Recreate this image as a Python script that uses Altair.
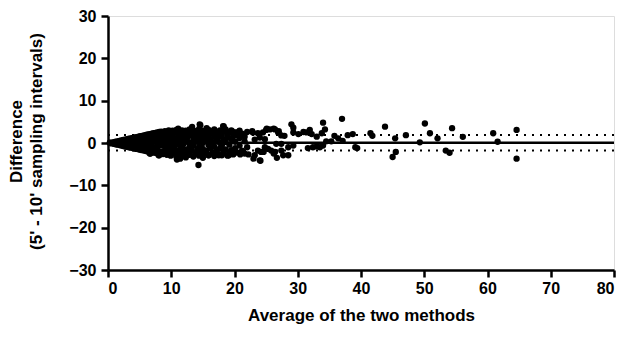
import altair as alt
import pandas as pd

# Dense cluster (average, difference) read from the fan at low values
cluster_x = [
    0.3, 0.3, 0.6, 0.6, 0.9, 0.9, 1.2, 1.2, 1.2, 1.5, 1.5, 1.8, 1.8, 1.8,
    2.1, 2.1, 2.1, 2.4, 2.4, 2.7, 2.7, 2.7, 3.0, 3.0, 3.0, 3.3, 3.3, 3.3,
    3.6, 3.6, 3.6, 3.9, 3.9, 3.9, 4.2, 4.2, 4.2, 4.5, 4.5, 4.5, 4.5,
    4.8, 4.8, 4.8, 5.1, 5.1, 5.1, 5.1, 5.4, 5.4, 5.4, 5.7, 5.7, 5.7, 5.7,
    6.0, 6.0, 6.0, 6.0, 6.0, 6.3, 6.3, 6.3, 6.6, 6.6, 6.6, 6.6, 6.9, 6.9, 6.9,
    7.2, 7.2, 7.2, 7.2, 7.5, 7.5, 7.5, 7.8, 7.8, 7.8, 7.8, 7.8, 8.1, 8.1, 8.1,
    8.4, 8.4, 8.4, 8.4, 8.7, 8.7, 8.7, 8.7, 9.0, 9.0, 9.0, 9.0, 9.3, 9.3, 9.3, 9.3,
    9.6, 9.6, 9.6, 9.6, 9.9, 9.9, 9.9, 9.9, 10.2, 10.2, 10.2, 10.2,
    10.5, 10.5, 10.5, 10.5, 10.8, 10.8, 10.8, 10.8, 11.1, 11.1, 11.1, 11.1,
    11.4, 11.4, 11.4, 11.7, 11.7, 11.7, 11.7, 12.0, 12.0, 12.0, 12.0,
    12.3, 12.3, 12.3, 12.3, 12.6, 12.6, 12.6, 12.9, 12.9, 12.9, 12.9,
    13.2, 13.2, 13.2, 13.5, 13.5, 13.5, 13.5, 13.8, 13.8, 13.8, 14.1, 14.1, 14.1,
    14.4, 14.4, 14.4, 14.4, 14.7, 14.7, 14.7, 15.0, 15.0, 15.0, 15.0,
    15.3, 15.3, 15.3, 15.6, 15.6, 15.6, 15.9, 15.9, 15.9, 15.9, 16.2, 16.2, 16.2,
    16.5, 16.5, 16.5, 16.8, 16.8, 16.8, 16.8, 17.1, 17.1, 17.1, 17.4, 17.4, 17.4,
    17.7, 17.7, 17.7, 18.0, 18.0, 18.0, 18.0, 18.3, 18.3, 18.3, 18.6, 18.6, 18.6,
    18.9, 18.9, 18.9, 19.2, 19.2, 19.2, 19.5, 19.5, 19.5, 19.8, 19.8, 19.8,
    20.1, 20.1, 20.1, 20.4, 20.4, 20.8, 20.8, 20.8, 21.2, 21.2, 21.6, 21.6, 21.6,
    22.0, 22.0,
]
cluster_y = [
    0.0, 0.1, 0.1, -0.1, 0.2, -0.2, 0.3, -0.3, 0.0, 0.4, -0.4, 0.5, -0.5, 0.1,
    0.6, -0.6, 0.0, 0.7, -0.7, 0.8, -0.8, 0.1, 0.9, -0.9, 0.0, 1.0, -1.0, 0.3,
    1.1, -1.1, -0.2, 1.2, -1.2, 0.4, 1.3, -1.3, 0.0, 1.4, -1.4, 0.5, -0.5,
    1.5, -1.5, 0.1, 1.6, -1.6, 0.6, -0.7, 1.7, -1.7, 0.0, 1.8, -1.8, 0.8, -0.6,
    1.9, -1.9, 0.2, 1.0, -1.0, 2.0, -2.0, -0.3, 2.1, -2.5, 0.9, -1.1, 2.2, -2.0, 0.1,
    2.3, -2.2, 1.2, -1.0, 2.4, -2.3, 0.3, 2.5, -2.4, 1.4, -1.2, 0.0, 2.6, -2.9, 0.7,
    2.7, -2.0, 1.0, -0.5, 2.2, -2.6, 0.2, 1.6, 2.8, -1.8, -0.9, 0.9, 2.4, -2.8, 0.4, -1.5,
    3.0, -2.2, 1.5, -0.3, 2.1, -3.0, 0.8, -1.2, 2.9, -2.4, 0.0, 1.8,
    2.5, -1.7, 1.1, -0.7, 3.1, -3.2, 0.5, -1.9, 2.2, -2.6, 1.5, -0.3,
    2.8, -1.4, 0.2, 3.0, -3.0, 1.0, -0.8, 2.4, -2.2, 1.8, -0.1,
    2.9, -3.4, 0.6, -1.5, 2.1, -2.0, 1.3, 3.2, -2.8, 0.0, -1.0,
    2.6, -1.7, 1.9, 3.0, -3.2, 0.8, -0.6, 2.2, -2.4, 1.4, 2.8, -1.6, 0.3,
    3.3, -3.0, 1.7, -0.9, 2.4, -2.2, 0.9, 2.9, -3.5, 0.0, -1.4,
    2.0, -2.5, 1.4, 2.7, -1.8, 0.6, 3.1, -2.9, 1.8, -0.5, 2.3, -1.2, 0.9,
    2.8, -2.4, 0.1, 3.2, -3.1, 1.5, -0.8, 2.1, -1.9, 0.6, 2.6, -2.6, 1.2,
    3.0, -1.3, 0.0, 2.3, -2.9, 1.7, -0.6, 2.8, -2.1, 0.8, 3.2, -1.5, 0.2,
    2.2, -3.0, 1.3, 2.6, -2.3, -0.4, 3.0, -1.7, 0.9, 2.0, -2.7, 1.6,
    2.5, -1.2, 0.3, 1.8, -2.2, 2.9, -0.6, 1.2, 2.2, -1.8, 1.5, -2.5, 0.4,
    2.6, -1.0,
]

# Edge and scattered points read individually
spread_x = [
    11.1, 13.3, 14.6, 15.6, 18.3, 19.6, 20.4, 22.8, 25.1, 26.2, 27.0,
    6.7, 7.2, 8.0, 10.9, 11.4, 12.7, 14.3, 15.9, 17.0, 17.5, 19.1, 19.9,
    20.9, 22.2, 23.0, 24.1, 24.6, 26.2, 26.7, 14.5, 18.2,
    22.9, 23.7, 24.5, 25.0, 25.6, 26.4, 26.9, 27.4, 27.9, 29.0, 29.3, 29.3,
    30.1, 30.9, 31.4, 31.9, 32.2, 33.0, 33.8, 34.0, 34.3, 23.2, 24.0, 24.8,
    26.6, 27.4, 28.5, 29.3, 31.6, 32.4, 33.0, 33.5, 34.0, 23.7, 24.2, 23.2,
    24.0, 25.8, 26.4, 27.7, 28.5, 24.8, 25.3, 27.4,
    37.0, 43.8, 35.8, 36.4, 37.1, 37.9, 38.7, 34.5, 35.3, 41.5, 41.8, 39.1,
    39.4, 45.4, 45.0, 45.5,
    50.1, 47.1, 50.9, 49.3, 52.1, 54.4, 56.1, 53.4, 54.0,
    60.9, 64.6, 61.6, 64.6,
]
spread_y = [
    3.4, 3.8, 4.2, 3.5, 3.9, 2.8, 2.5, 2.8, 3.4, 3.4, 2.8,
    -2.5, -2.2, -2.9, -3.9, -3.7, -2.7, -5.2, -2.9, -2.5, -2.9, -2.9, -2.5,
    -2.7, -2.7, -3.7, -4.2, -2.1, -2.5, -3.5, 4.4, 4.0,
    2.5, 2.3, 2.5, 3.1, 3.2, 3.2, 2.5, 1.8, 1.7, 4.4, 3.6, 2.5,
    2.1, 2.6, 2.5, 3.1, 2.1, 1.5, 2.3, 4.8, 3.2, 0.8, 1.3, 0.9,
    -0.2, -0.2, -1.0, -0.6, -1.2, -1.0, -0.8, -1.0, -0.6, -1.8, -2.1, -2.9,
    -4.1, -1.8, -2.1, -2.9, -2.9, -1.0, -1.4, -1.8,
    5.7, 3.85, 1.7, 1.1, 0.5, 1.85, 2.1, 0.4, 0.4, 2.3, 1.7, -1.0,
    -1.2, 1.1, -3.3, -2.1,
    4.6, 1.85, 2.3, 0.15, 1.1, 3.5, 1.45, -1.8, -2.3,
    2.3, 3.1, 0.3, -3.7,
]

bias = 0.05
upper_loa = 1.9
lower_loa = -1.8

x_ticks = [0, 10, 20, 30, 40, 50, 60, 70, 80]
y_ticks = [-30, -20, -10, 0, 10, 20, 30]

pts = pd.DataFrame({
    "avg": cluster_x + spread_x,
    "diff": cluster_y + spread_y,
})
lines = pd.DataFrame({
    "x0": [0, 0, 0],
    "x1": [80, 80, 80],
    "y": [bias, upper_loa, lower_loa],
    "kind": ["bias", "loa", "loa"],
})

FONT = "Liberation Sans"

xscale = alt.Scale(domain=[0, 80], nice=False, zero=False)
yscale = alt.Scale(domain=[-30, 30], nice=False, zero=False)

xaxis = alt.Axis(
    values=x_ticks, title="Average of the two methods", grid=False,
    domainColor="black", domainWidth=2.5, tickColor="black", tickWidth=2.5,
    tickSize=7, labelFont=FONT, labelFontSize=16, labelFontWeight="bold",
    labelColor="black", labelPadding=3, titleFont=FONT, titleFontSize=17,
    titleFontWeight="bold", titleColor="black", titleY=50,
    titleBaseline="alphabetic",
)
yaxis = alt.Axis(
    values=y_ticks, title=["Difference", "(5' - 10' sampling intervals)"],
    grid=False, domainColor="black", domainWidth=2.5, tickColor="black",
    tickWidth=2.5, tickSize=7, labelFont=FONT, labelFontSize=16,
    labelFontWeight="bold", labelColor="black", labelPadding=5,
    titleFont=FONT, titleFontSize=17, titleFontWeight="bold",
    titleColor="black", titleX=-100, titleY=125, titleAngle=-90,
    titleAlign="center", titleBaseline="top", titleLineHeight=20,
)

points = alt.Chart(pts).mark_circle(size=40, color="black", opacity=1).encode(
    x=alt.X("avg:Q", scale=xscale, axis=xaxis),
    y=alt.Y("diff:Q", scale=yscale, axis=yaxis),
)

bias_line = alt.Chart(lines[lines.kind == "bias"]).mark_rule(
    color="black", strokeWidth=2.5
).encode(
    x=alt.X("x0:Q", scale=xscale), x2="x1:Q", y=alt.Y("y:Q", scale=yscale)
)
loa_lines = alt.Chart(lines[lines.kind == "loa"]).mark_rule(
    color="black", strokeWidth=2, strokeDash=[2, 6]
).encode(
    x=alt.X("x0:Q", scale=xscale), x2="x1:Q", y=alt.Y("y:Q", scale=yscale)
)

chart = alt.layer(loa_lines, bias_line, points).properties(
    width=506, height=254,
    autosize=alt.AutoSizeParams(type="none"),
    padding={"left": 100, "top": 8, "right": 20, "bottom": 59},
).configure_view(stroke=None).configure(background="white")

chart.save("out.html", embed_options={"renderer": "svg", "actions": False})
